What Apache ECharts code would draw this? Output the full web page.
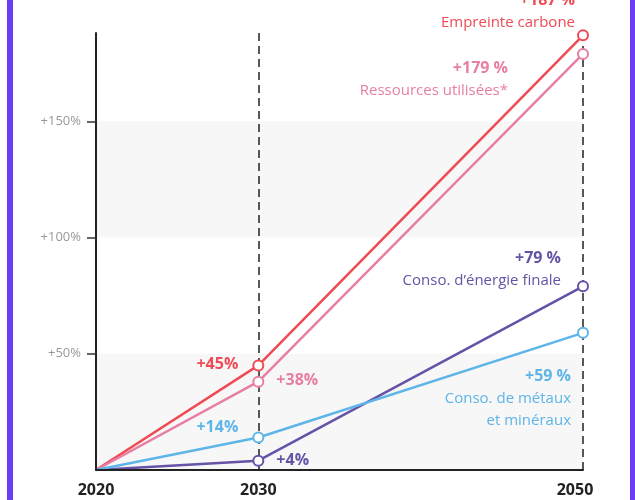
<!DOCTYPE html>
<html>
<head>
<meta charset="utf-8">
<script src="https://cdn.jsdelivr.net/npm/echarts@6/dist/echarts.min.js"></script>
<style>
  html, body { margin: 0; padding: 0; background: #ffffff; }
  #chart { width: 635px; height: 500px; }
</style>
</head>
<body>
<div id="chart"></div>
<script>
// ---- data ----
const years = [2020, 2030, 2050];
const carbone = [0, 45, 187];
const ressources = [0, 38, 179];
const energie = [0, 4, 79];
const metaux = [0, 14, 59];
const yTickValues = [50, 100, 150];
const shadedBands = [[0, 50], [100, 150]];
const xLabelYears = [2020, 2030, 2050];
const markYears = [2030, 2050];
const seriesNames = ['Empreinte carbone', 'Ressources utilisées*', 'Conso. d’énergie finale', 'Conso. de métaux\net minéraux'];

// ---- styling ----
const FONT = 'Open Sans';
const colors = ['#ef4b55', '#e77fa5', '#6652a6', '#5db5e8'];
const values = [carbone, ressources, energie, metaux];

// label placement per series: [2030 label, 2050 label]
const labelLayout = [
  { mid: { pos: [-14, 5], align: 'right', v: 'middle' }, end: { pos: [-2, 4], align: 'right', v: 'bottom' } },
  { mid: { pos: [24, 5], align: 'left', v: 'middle' },  end: { pos: [-69, 10], align: 'right', v: 'top' } },
  { mid: { pos: [24, 6], align: 'left', v: 'middle' },  end: { pos: [-16, 11], align: 'right', v: 'bottom' } },
  { mid: { pos: [-14, -4], align: 'right', v: 'middle' }, end: { pos: [-6, 39], align: 'right', v: 'top' } }
];

function buildSeries(idx) {
  const vals = values[idx];
  const color = colors[idx];
  const lay = labelLayout[idx];
  const data = years.map((yr, i) => {
    const item = { value: [yr, vals[i]] };
    if (i === 0) {
      item.symbol = 'none';
      item.label = { show: false };
    } else if (i === 1) {
      item.label = {
        show: true,
        position: lay.mid.pos,
        align: lay.mid.align,
        verticalAlign: lay.mid.v,
        formatter: '+' + vals[i] + '%',
        fontFamily: FONT, fontWeight: 700, fontSize: 16, color: color
      };
    } else {
      item.label = {
        show: true,
        position: lay.end.pos,
        align: lay.end.align,
        verticalAlign: lay.end.v,
        formatter: '{b|+' + vals[i] + ' %}\n' + seriesNames[idx].split('\n').map(s => '{n|' + s + '}').join('\n'),
        rich: {
          b: { fontFamily: FONT, fontWeight: 700, fontSize: 16, color: color, lineHeight: 22, align: 'right' },
          n: { fontFamily: FONT, fontWeight: 400, fontSize: 15, color: color, lineHeight: 22, align: 'right' }
        }
      };
    }
    return item;
  });
  return {
    type: 'line',
    name: seriesNames[idx],
    data: data,
    symbol: 'emptyCircle',
    symbolSize: 10,
    lineStyle: { color: color, width: 2.5 },
    itemStyle: { color: color, borderWidth: 2, borderColor: color },
    z: 5 + idx,
    emphasis: { disabled: true },
    animation: false
  };
}

const series = [];
series.push({
  type: 'line',
  data: [],
  silent: true,
  z: 2,
  markArea: {
    silent: true,
    itemStyle: { color: '#f7f7f7' },
    label: { show: false },
    emphasis: { disabled: true },
    data: shadedBands.map(b => [{ yAxis: b[0] }, { yAxis: b[1] }])
  },
  markLine: {
    silent: true,
    symbol: 'none',
    label: { show: false },
    lineStyle: { color: '#222', width: 1.5, type: [8, 5] },
    emphasis: { disabled: true },
    data: markYears.map(y => ({ xAxis: y }))
  },
  animation: false
});
// draw order: metaux, energie, ressources, carbone
[3, 2, 1, 0].forEach(i => series.push(buildSeries(i)));

const chart = echarts.init(document.getElementById('chart'), null, { renderer: 'canvas' });
chart.setOption({
  backgroundColor: '#ffffff',
  animation: false,
  textStyle: { fontFamily: FONT },
  graphic: [
    { type: 'rect', left: 7, top: 0, shape: { width: 6, height: 500 }, style: { fill: '#6b3ef5' }, silent: true },
    { type: 'rect', left: 630, top: 0, shape: { width: 6, height: 500 }, style: { fill: '#6b3ef5' }, silent: true }
  ],
  grid: { left: 96, right: 52, top: 33, bottom: 30, containLabel: false },
  xAxis: {
    type: 'value',
    min: 2020,
    max: 2050,
    interval: 10,
    z: 10,
    axisLine: { show: true, lineStyle: { color: '#222', width: 2 } },
    axisTick: { show: false },
    splitLine: { show: false },
    axisLabel: {
      margin: 12,
      customValues: xLabelYears,
      formatter: function (v) {
        if (v === 2050) return '{r|' + v + '}';
        return '{c|' + v + '}';
      },
      rich: {
        c: { fontFamily: FONT, fontWeight: 700, fontSize: 16, color: '#222' },
        r: { fontFamily: FONT, fontWeight: 700, fontSize: 16, color: '#222', padding: [0, 16, 0, 0] }
      }
    }
  },
  yAxis: {
    type: 'value',
    min: 0,
    max: 188,
    interval: 50,
    z: 10,
    axisLine: { show: true, lineStyle: { color: '#222', width: 2 } },
    axisTick: { show: true, length: 9, customValues: yTickValues, lineStyle: { color: '#333', width: 1.5 } },
    splitLine: { show: false },
    splitArea: { show: false },
    axisLabel: {
      margin: 15,
      customValues: yTickValues,
      color: '#999',
      fontFamily: FONT,
      fontSize: 13,
      formatter: function (v) { return '+' + v + '%'; }
    }
  },
  series: series
});
</script>
</body>
</html>
